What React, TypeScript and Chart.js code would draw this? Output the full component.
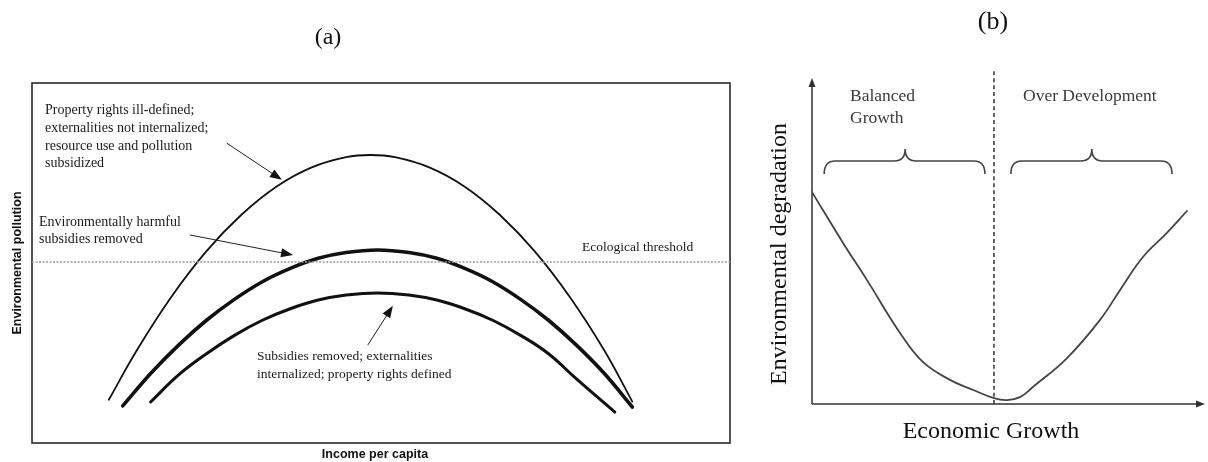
import React, { useEffect, useRef } from "react";
import { Chart, registerables } from "chart.js";

Chart.register(...registerables);

// ---------- Panel (a): income per capita vs environmental pollution ----------
const incomeA1 = [11, 15, 20, 25, 30, 35, 40, 45, 48.5, 52, 57, 62, 67, 72, 77, 82, 86];
const pollutionA1 = [12.0, 25.7, 40.7, 53.3, 63.4, 71.2, 76.5, 79.4, 80.0, 79.4, 76.5, 71.2, 63.4, 53.3, 40.7, 25.7, 11.5];

const incomeA2 = [13, 17, 21, 25, 29, 33, 37, 41, 45, 49.5, 54, 58, 62, 66, 70, 74, 78, 82, 86];
const pollutionA2 = [10.3, 19.3, 27.2, 34.1, 39.9, 44.8, 48.5, 51.3, 52.9, 53.6, 52.9, 51.3, 48.5, 44.8, 39.9, 34.1, 27.2, 19.3, 10.0];

const incomeA3 = [17, 21, 25, 29, 33, 37, 41, 45, 49.5, 54, 58, 62, 66, 70, 74, 78, 83.5];
const pollutionA3 = [11.4, 18.9, 24.8, 29.9, 34.1, 37.3, 39.7, 41.1, 41.7, 41.1, 39.7, 37.3, 34.1, 29.9, 24.8, 17.8, 8.6];

const thresholdX = [0, 100];
const thresholdY = [50.3, 50.3];

// ---------- Panel (b): economic growth vs environmental degradation ----------
const growthB = [0, 7.9, 14.0, 22.4, 28.2, 35.1, 41.0, 46.3, 49.6, 52.9, 56.2, 64.9, 73.3, 78.4, 84.2, 90.3, 95.4];
const degradationB = [65.0, 49.4, 38.0, 21.8, 12.9, 7.4, 4.3, 1.8, 1.2, 2.1, 5.2, 14.1, 25.8, 35.0, 45.1, 52.5, 59.2];

const dividerX = [46.3, 46.3];
const dividerY = [0, 102.1];

// ---------- annotations (not data) ----------
const arrowsA = [
  { x0: 27.9, y0: 83.3, x1: 35.8, y1: 73.1 },
  { x0: 22.6, y0: 57.8, x1: 37.4, y1: 52.2 },
  { x0: 48.1, y0: 27.2, x1: 51.7, y1: 38.1 },
];

const SERIF = "'Liberation Serif', 'Times New Roman', serif";
const SANS = "'Liberation Sans', Arial, sans-serif";

const textsA = [
  { t: "Property rights ill-defined;", x: 45, y: 110, size: 14 },
  { t: "externalities not internalized;", x: 45, y: 128, size: 14 },
  { t: "resource use and pollution", x: 45, y: 146, size: 14 },
  { t: "subsidized", x: 45, y: 163, size: 14 },
  { t: "Environmentally harmful", x: 39, y: 222, size: 14 },
  { t: "subsidies removed", x: 39, y: 239, size: 14 },
  { t: "Ecological threshold", x: 582, y: 247, size: 13.5 },
  { t: "Subsidies removed; externalities", x: 257, y: 356, size: 13.5 },
  { t: "internalized; property rights defined", x: 257, y: 374, size: 13.5 },
];

const bracesB = [
  { x0: 3.1, x1: 44.0, tip: 23.7 },
  { x0: 50.6, x1: 91.6, tip: 71.2 },
];

const zip = (xs: number[], ys: number[]) => xs.map((x, i) => ({ x, y: ys[i] }));

function drawArrowHead(ctx: CanvasRenderingContext2D, x0: number, y0: number, x1: number, y1: number, len: number, half: number) {
  const ang = Math.atan2(y1 - y0, x1 - x0);
  ctx.beginPath();
  ctx.moveTo(x1, y1);
  ctx.lineTo(x1 - len * Math.cos(ang) + half * Math.sin(ang), y1 - len * Math.sin(ang) - half * Math.cos(ang));
  ctx.lineTo(x1 - len * Math.cos(ang) - half * Math.sin(ang), y1 - len * Math.sin(ang) + half * Math.cos(ang));
  ctx.closePath();
  ctx.fill();
}

const panelAPlugin = {
  id: "panelA",
  beforeDatasetsDraw(chart: any) {
    const { ctx, chartArea: ca } = chart;
    ctx.save();
    ctx.strokeStyle = "#2a2a2a";
    ctx.lineWidth = 1.6;
    ctx.strokeRect(ca.left, ca.top, ca.right - ca.left, ca.bottom - ca.top);
    ctx.restore();
  },
  afterDatasetsDraw(chart: any) {
    const { ctx, scales } = chart;
    const xs = scales.x;
    const ys = scales.y;
    ctx.save();
    ctx.strokeStyle = "#222";
    ctx.fillStyle = "#111";
    ctx.lineWidth = 1;
    for (const a of arrowsA) {
      const px0 = xs.getPixelForValue(a.x0);
      const py0 = ys.getPixelForValue(a.y0);
      const px1 = xs.getPixelForValue(a.x1);
      const py1 = ys.getPixelForValue(a.y1);
      const ang = Math.atan2(py1 - py0, px1 - px0);
      ctx.beginPath();
      ctx.moveTo(px0, py0);
      ctx.lineTo(px1 - 6 * Math.cos(ang), py1 - 6 * Math.sin(ang));
      ctx.stroke();
      drawArrowHead(ctx, px0, py0, px1, py1, 12, 4.5);
    }
    ctx.fillStyle = "#1a1a1a";
    ctx.textBaseline = "middle";
    ctx.textAlign = "left";
    for (const t of textsA) {
      ctx.font = `${t.size}px ${SERIF}`;
      ctx.fillText(t.t, t.x, t.y);
    }
    ctx.textAlign = "center";
    ctx.fillStyle = "#111";
    ctx.font = `24px ${SERIF}`;
    ctx.fillText("(a)", 328, 38);
    ctx.font = `bold 12.5px ${SANS}`;
    ctx.fillText("Income per capita", 375, 455);
    ctx.save();
    ctx.translate(18, 263);
    ctx.rotate(-Math.PI / 2);
    ctx.fillText("Environmental pollution", 0, 0);
    ctx.restore();
    ctx.restore();
  },
};

const panelBPlugin = {
  id: "panelB",
  afterDatasetsDraw(chart: any) {
    const { ctx, chartArea: ca, scales } = chart;
    const xs = scales.x;
    ctx.save();
    // axes with arrow heads
    ctx.strokeStyle = "#333";
    ctx.fillStyle = "#333";
    ctx.lineWidth = 1.5;
    ctx.beginPath();
    ctx.moveTo(ca.left, ca.bottom);
    ctx.lineTo(ca.left, ca.top + 6);
    ctx.moveTo(ca.left, ca.bottom);
    ctx.lineTo(ca.right - 6, ca.bottom);
    ctx.stroke();
    drawArrowHead(ctx, ca.left, ca.bottom, ca.left, ca.top, 9, 3.5);
    drawArrowHead(ctx, ca.left, ca.bottom, ca.right, ca.bottom, 9, 3.5);

    // braces
    ctx.strokeStyle = "#444";
    ctx.lineWidth = 1.6;
    const yEnd = 174;
    const yLine = 161;
    const yTip = 149;
    const r = 11;
    for (const b of bracesB) {
      const x0 = xs.getPixelForValue(b.x0);
      const x1 = xs.getPixelForValue(b.x1);
      const xt = xs.getPixelForValue(b.tip);
      ctx.beginPath();
      ctx.moveTo(x0, yEnd);
      ctx.quadraticCurveTo(x0, yLine, x0 + r, yLine);
      ctx.lineTo(xt - r, yLine);
      ctx.quadraticCurveTo(xt, yLine, xt, yTip);
      ctx.quadraticCurveTo(xt, yLine, xt + r, yLine);
      ctx.lineTo(x1 - r, yLine);
      ctx.quadraticCurveTo(x1, yLine, x1, yEnd);
      ctx.stroke();
    }

    // texts
    ctx.textBaseline = "middle";
    ctx.fillStyle = "#3a3a3a";
    ctx.textAlign = "left";
    ctx.font = `17.5px ${SERIF}`;
    ctx.fillText("Balanced", 90, 96);
    ctx.fillText("Growth", 90, 118);
    ctx.fillText("Over Development", 263, 96);

    ctx.fillStyle = "#111";
    ctx.textAlign = "center";
    ctx.font = `26px ${SERIF}`;
    ctx.fillText("(b)", 233, 22);
    ctx.font = `24px ${SERIF}`;
    ctx.fillText("Economic Growth", 231, 432);
    ctx.save();
    ctx.translate(20, 254);
    ctx.rotate(-Math.PI / 2);
    ctx.fillText("Environmental degradation", 0, 0);
    ctx.restore();
    ctx.restore();
  },
};

const hiddenScales = {
  x: { type: "linear", min: 0, max: 100, display: false },
  y: { type: "linear", min: 0, max: 100, display: false },
};

export default function App() {
  const refA = useRef<HTMLCanvasElement>(null);
  const refB = useRef<HTMLCanvasElement>(null);

  useEffect(() => {
    const lineDefaults = {
      type: "line",
      pointRadius: 0,
      fill: false,
      tension: 0.4,
      borderJoinStyle: "round",
      borderCapStyle: "round",
    };
    const chartA = new Chart(refA.current as HTMLCanvasElement, {
      type: "line",
      data: {
        datasets: [
          {
            ...lineDefaults,
            label: "Ecological threshold",
            data: zip(thresholdX, thresholdY),
            borderColor: "#9a9a9a",
            borderWidth: 1.5,
            borderDash: [2, 1.5],
            borderCapStyle: "butt",
          },
          {
            ...lineDefaults,
            label: "Property rights ill-defined",
            data: zip(incomeA1, pollutionA1),
            borderColor: "#111",
            borderWidth: 1.8,
          },
          {
            ...lineDefaults,
            label: "Environmentally harmful subsidies removed",
            data: zip(incomeA2, pollutionA2),
            borderColor: "#111",
            borderWidth: 3.6,
          },
          {
            ...lineDefaults,
            label: "Subsidies removed; externalities internalized",
            data: zip(incomeA3, pollutionA3),
            borderColor: "#111",
            borderWidth: 3,
          },
        ] as any,
      },
      options: {
        responsive: false,
        animation: false,
        events: [],
        layout: { padding: { left: 32, top: 83, right: 30, bottom: 19 } },
        scales: hiddenScales as any,
        plugins: { legend: { display: false }, tooltip: { enabled: false }, title: { display: false } },
      },
      plugins: [panelAPlugin],
    } as any);

    const chartB = new Chart(refB.current as HTMLCanvasElement, {
      type: "line",
      data: {
        datasets: [
          {
            ...lineDefaults,
            label: "Divider",
            data: zip(dividerX, dividerY),
            borderColor: "#333",
            borderWidth: 1.5,
            borderDash: [4, 3],
            borderCapStyle: "butt",
            clip: false,
          },
          {
            ...lineDefaults,
            label: "Environmental degradation",
            data: zip(growthB, degradationB),
            borderColor: "#444",
            borderWidth: 1.8,
          },
        ] as any,
      },
      options: {
        responsive: false,
        animation: false,
        events: [],
        layout: { padding: { left: 52, top: 78, right: 3, bottom: 58 } },
        scales: hiddenScales as any,
        plugins: { legend: { display: false }, tooltip: { enabled: false }, title: { display: false } },
      },
      plugins: [panelBPlugin],
    } as any);

    return () => {
      chartA.destroy();
      chartB.destroy();
    };
  }, []);

  return (
    <div style={{ position: "fixed", left: 0, top: 0, width: 1208, height: 462, background: "#fff" }}>
      <canvas ref={refA} width={760} height={462} style={{ position: "absolute", left: 0, top: 0 }} />
      <canvas ref={refB} width={448} height={462} style={{ position: "absolute", left: 760, top: 0 }} />
    </div>
  );
}
